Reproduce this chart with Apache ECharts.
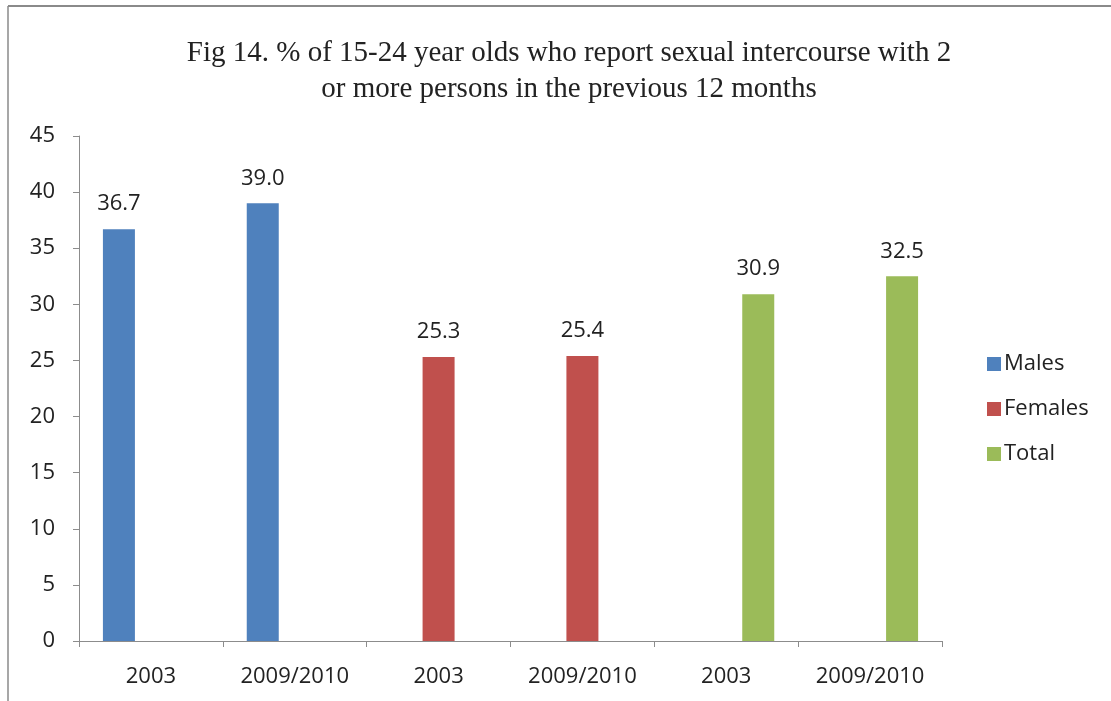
<!DOCTYPE html>
<html>
<head>
<meta charset="utf-8">
<script src="https://cdn.jsdelivr.net/npm/echarts@6/dist/echarts.min.js"></script>
<style>
  html, body { margin: 0; padding: 0; background: #fff; }
  #chart { width: 1111px; height: 701px; }
</style>
</head>
<body>
<div id="chart"></div>
<script>
// Category labels along the x axis
var categories = ['2003', '2009/2010', '2003', '2009/2010', '2003', '2009/2010'];
// Percent values per group; each group only fills its own two categories
var males   = [36.7, 39.0, null, null, null, null];
var females = [null, null, 25.3, 25.4, null, null];
var total   = [null, null, null, null, 30.9, 32.5];
var seriesNames = ['Males', 'Females', 'Total'];
var seriesColors = ['#4F81BD', '#C0504D', '#9BBB59'];

var labelFont = '"Open Sans", "Liberation Sans", sans-serif';

function makeSeries(name, data, color) {
  return {
    name: name,
    type: 'bar',
    data: data,
    barWidth: 32,
    barGap: '0%',
    itemStyle: { color: color },
    label: {
      show: true,
      position: 'top',
      distance: 14,
      color: '#222',
      fontFamily: labelFont,
      fontSize: 22,
      formatter: function (p) { return p.value == null ? '' : Number(p.value).toFixed(1); }
    }
  };
}

var chart = echarts.init(document.getElementById('chart'), null, { renderer: 'canvas' });
chart.setOption({
  animation: false,
  backgroundColor: '#fff',
  title: {
    text: 'Fig 14. % of 15-24 year olds who report sexual intercourse with 2\nor more persons in the previous 12 months',
    left: 564,
    textAlign: 'center',
    top: 30,
    textStyle: {
      fontFamily: '"Liberation Serif", "DejaVu Serif", serif',
      fontWeight: 'normal',
      fontSize: 29,
      lineHeight: 36,
      color: '#222'
    }
  },
  legend: {
    orient: 'vertical',
    left: 982,
    top: 348,
    itemWidth: 14,
    itemHeight: 14,
    itemGap: 23,
    icon: 'rect',
    textStyle: { fontFamily: labelFont, fontSize: 22, color: '#222', padding: [0, 0, 0, -2] },
    data: seriesNames
  },
  grid: { left: 79, right: 169, top: 136, bottom: 60, containLabel: false },
  xAxis: {
    type: 'category',
    data: categories,
    axisLine: { lineStyle: { color: '#8c8c8c', width: 1 } },
    axisTick: { show: true, length: 6, lineStyle: { color: '#8c8c8c' } },
    axisLabel: { margin: 25, color: '#222', fontFamily: labelFont, fontSize: 22 }
  },
  yAxis: {
    type: 'value',
    min: 0,
    max: 45,
    interval: 5,
    axisLine: { show: true, lineStyle: { color: '#8c8c8c', width: 1 } },
    axisTick: { show: true, length: 6, lineStyle: { color: '#8c8c8c' } },
    splitLine: { show: false },
    axisLabel: { margin: 24, color: '#222', fontFamily: labelFont, fontSize: 22 }
  },
  graphic: [
    { type: 'line', shape: { x1: 8, y1: 6, x2: 1111, y2: 6 }, style: { stroke: '#8a8a8a', lineWidth: 2 } },
    { type: 'line', shape: { x1: 8, y1: 6, x2: 8, y2: 701 }, style: { stroke: '#8a8a8a', lineWidth: 1.5 } }
  ],
  series: [
    makeSeries(seriesNames[0], males, seriesColors[0]),
    makeSeries(seriesNames[1], females, seriesColors[1]),
    makeSeries(seriesNames[2], total, seriesColors[2])
  ]
});
</script>
</body>
</html>
